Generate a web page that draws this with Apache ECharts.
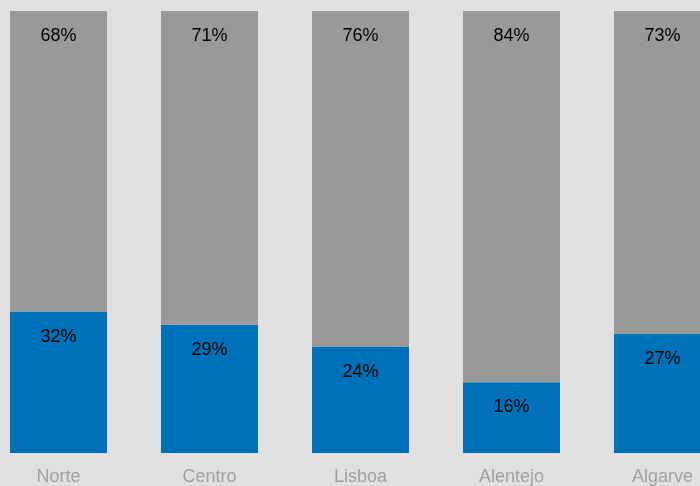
<!DOCTYPE html>
<html><head><meta charset="utf-8">
<script src="https://cdn.jsdelivr.net/npm/echarts@6/dist/echarts.min.js"></script>
<style>html,body{margin:0;padding:0;background:#e0e0e0;overflow:hidden;width:700px;height:486px;}#c{position:absolute;left:-17px;top:0;width:755px;height:486px;}</style>
</head><body><div id="c"></div>
<script>
const categories = ['Norte', 'Centro', 'Lisboa', 'Alentejo', 'Algarve'];
const bottomValues = [32, 29, 24, 16, 27];
const topValues = [68, 71, 76, 84, 73];

const chart = echarts.init(document.getElementById('c'), null, {renderer: 'canvas'});
const lbl = {show: true, position: 'insideTop', distance: 16, color: '#000', fontSize: 18,
  fontFamily: 'Liberation Sans, Arial, sans-serif', formatter: p => p.value + '%'};
chart.setOption({
  backgroundColor: '#e0e0e0',
  animation: false,
  grid: {left: 0, right: 0, top: 11, bottom: 32, containLabel: false},
  xAxis: {type: 'category', data: categories, axisLine: {show: false}, axisTick: {show: false},
    axisLabel: {color: '#a0a0a0', fontSize: 18, margin: 15, fontFamily: 'Liberation Sans, Arial, sans-serif'}},
  yAxis: {type: 'value', min: 0, max: 100, show: false, splitLine: {show: false}},
  series: [
    {type: 'bar', stack: 's', data: bottomValues, barWidth: 97, itemStyle: {color: '#0070b8'}, label: lbl},
    {type: 'bar', stack: 's', data: topValues, barWidth: 97, itemStyle: {color: '#999999'}, label: lbl}
  ]
});
</script></body></html>
